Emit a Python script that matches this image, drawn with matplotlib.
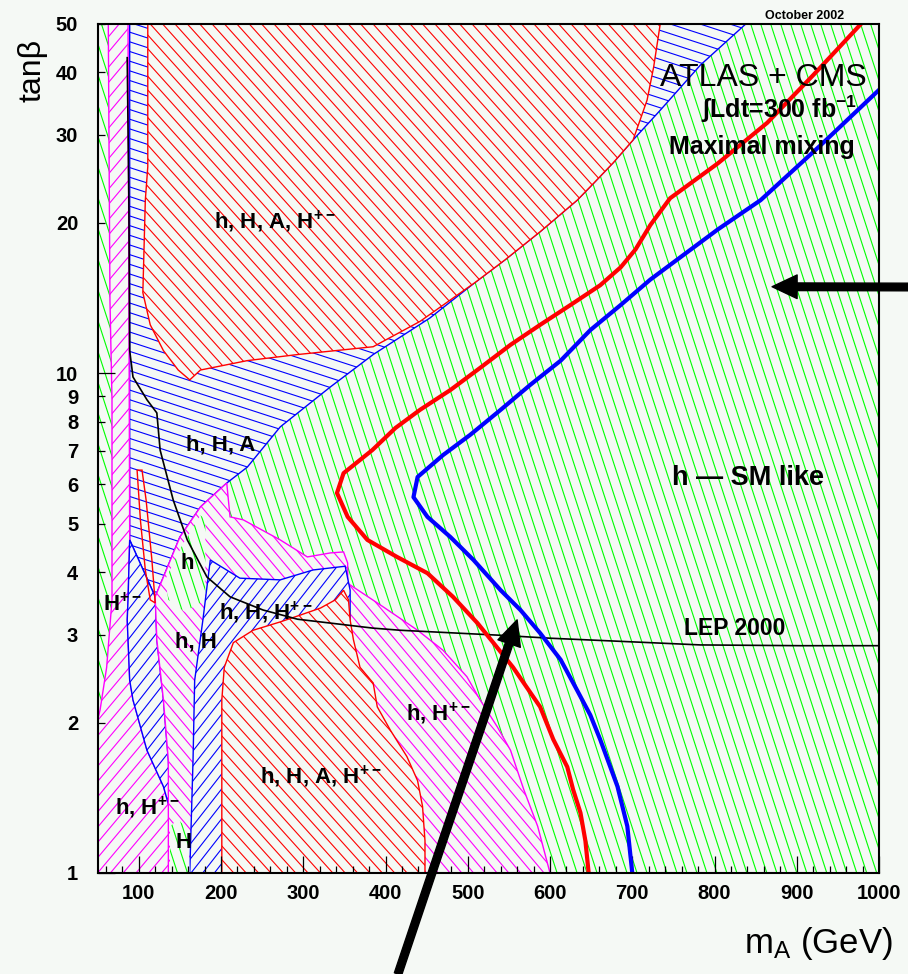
import matplotlib
matplotlib.use('Agg')
import matplotlib.pyplot as plt
import numpy as np
from matplotlib.patches import Polygon
from matplotlib.collections import LineCollection

plt.rcParams['font.family'] = ['Liberation Sans', 'DejaVu Sans']
plt.rcParams['font.weight'] = 'bold'
plt.rcParams['mathtext.default'] = 'regular'

BG = '#f5f9f5'
GREEN, RED, BLUE, MAGENTA = '#00ff00', '#ff0000', '#0000ff', '#ff00ff'

# 5 sigma contours (mA in GeV, tan beta)
red_ma = [978, 920, 864, 804, 746, 722, 704, 686, 661, 625, 588, 552, 515, 479, 442, 412, 384,
          349, 341, 354, 378, 414, 451, 482, 512, 531, 555, 588, 604, 621, 628, 637, 643, 647]
red_tb = [50.0, 39.5, 31.7, 26.3, 22.4, 19.8, 17.7, 16.3, 15.0, 13.7, 12.5, 11.4, 10.25, 9.26, 8.45,
          7.77, 7.02, 6.31, 5.76, 5.16, 4.64, 4.29, 3.98, 3.57, 3.16, 2.89, 2.58, 2.15, 1.85, 1.63,
          1.47, 1.32, 1.16, 1.0]
blue_ma = [1000, 929, 856, 804, 722, 686, 649, 613, 576, 540, 503, 470, 439, 434, 451, 479, 507,
           540, 564, 588, 613, 633, 649, 661, 682, 694, 700]
blue_tb = [36.9, 28.6, 22.2, 19.4, 15.4, 13.7, 12.2, 10.6, 9.48, 8.45, 7.53, 6.86, 6.20, 5.65, 5.16,
           4.70, 4.23, 3.68, 3.36, 3.02, 2.67, 2.32, 2.07, 1.85, 1.49, 1.24, 1.0]

# LEP 2000 exclusion line
lep_ma = [86, 88, 89, 93, 110, 122, 126, 142, 159, 183, 211, 251, 293, 385, 418, 540, 600, 722,
          783, 905, 1000]
lep_tb = [42.8, 22.2, 11.1, 9.83, 8.85, 8.33, 7.02, 5.57, 4.64, 3.91, 3.57, 3.36, 3.22, 3.09, 3.06,
          2.99, 2.95, 2.89, 2.86, 2.85, 2.85]

# observable-Higgs regions, outlines in (mA, tan beta)
hha_ma = [89, 838, 783, 734, 701, 677, 653, 633, 588, 546, 509, 454, 385, 333, 272, 232, 207, 175,
          150, 130, 120, 89]
hha_tb = [50, 50, 41.4, 33.6, 29.3, 26.4, 24.0, 22.2, 19.2, 16.9, 15.2, 12.9, 10.9, 9.39, 7.81, 6.49,
          6.03, 5.40, 4.70, 3.91, 3.57, 4.64]

all4_top_ma = [111, 734, 726, 718, 701, 677, 653, 633, 588, 546, 509, 442, 385, 293, 232, 175, 162,
               148, 130, 114, 105, 108, 111]
all4_top_tb = [50, 50, 41.0, 35.2, 29.3, 26.4, 24.0, 22.2, 19.2, 16.9, 15.2, 12.7, 11.3, 10.9, 10.6,
               10.15, 9.70, 10.15, 11.1, 12.5, 14.5, 22.2, 25.9]

hhpm_left_ma = [63, 87, 89, 87, 86, 89, 93, 110, 130, 138, 138, 50, 50, 53, 61, 67.5, 67.5, 65, 63]
hhpm_left_tb = [50, 50, 4.64, 3.52, 3.21, 2.43, 2.22, 1.76, 1.49, 1.34, 1.0, 1.0, 2.02, 2.12, 2.58,
                3.52, 8.85, 14.0, 50]

wedge_ma = [89, 120, 122, 130, 136, 138, 130, 110, 93, 89, 86, 87]
wedge_tb = [4.64, 3.57, 2.93, 2.22, 1.68, 1.34, 1.49, 1.76, 2.22, 2.43, 3.21, 3.52]

hh_mid_ma = [120, 130, 150, 175, 207, 211, 227, 272, 305, 333, 349, 354, 354, 397, 439, 470, 499,
             515, 536, 552, 568, 585, 600, 136, 136, 130, 122]
hh_mid_tb = [3.57, 3.91, 4.70, 5.40, 6.03, 5.16, 5.09, 4.64, 4.29, 4.37, 4.39, 4.17, 3.80, 3.41,
             3.06, 2.79, 2.47, 2.22, 1.96, 1.76, 1.47, 1.24, 1.0, 1.0, 1.68, 2.22, 2.93]

h_pocket_ma = [132, 153, 175, 181, 181, 156, 136]
h_pocket_tb = [3.86, 4.53, 5.20, 5.09, 3.52, 3.33, 3.52]

hhhpm_ma = [162, 166, 168, 178, 181, 187, 223, 272, 312, 351, 357, 357, 201]
hhhpm_tb = [1.0, 1.68, 2.43, 3.21, 3.52, 4.23, 3.89, 3.86, 4.04, 4.11, 3.68, 2.93, 1.0]

all4_low_ma = [201, 201, 204, 215, 239, 272, 296, 321, 339, 349, 355, 357, 361, 369, 385, 390, 406,
               426, 439, 445, 448, 448]
all4_low_tb = [1.0, 2.22, 2.58, 2.89, 3.06, 3.18, 3.28, 3.39, 3.52, 3.68, 3.52, 3.21, 2.93, 2.58,
               2.40, 2.15, 1.93, 1.71, 1.53, 1.36, 1.16, 1.0]

H_pocket_ma = [138, 148, 160, 162, 138]
H_pocket_tb = [1.24, 1.28, 1.22, 1.0, 1.0]

sliver_ma = [98, 102, 108, 114, 120, 116, 109, 104]
sliver_tb = [6.40, 5.09, 4.04, 3.52, 3.47, 4.23, 5.57, 6.40]

y_major = [1, 10]
y_minor = [2, 3, 4, 5, 6, 7, 8, 9, 20, 30, 40, 50]

fig = plt.figure(figsize=(9.08, 9.74), dpi=100, facecolor=BG)
ax = fig.add_axes([0.1075, 0.1037, 0.8606, 0.8717], facecolor=BG)
ax.set_xlim(50, 1000)
ax.set_yscale('log')
ax.set_ylim(1, 50)
ax.set_autoscale_on(False)

W = 0.8606 * 908
H = 0.8717 * 974
zlevel = [1.0]


def hatch(xs, ys, color, angle, step, edge=True):
    """Fill a region with background and draw ROOT-like hatching clipped to it."""
    z = zlevel[0]
    zlevel[0] += 0.05
    pts = np.column_stack([xs, ys])
    poly = Polygon(pts, closed=True, facecolor=BG, edgecolor='none', zorder=z)
    ax.add_patch(poly)
    th = np.radians(angle)
    d = np.array([np.cos(th), np.sin(th)])
    n = np.array([-np.sin(th), np.cos(th)])
    corners = np.array([[0, 0], [W, 0], [0, H], [W, H]])
    c = corners @ n
    L = W + H
    segs = []
    for ci in np.arange(np.floor(c.min() / step) * step, c.max() + step, step):
        p0 = ci * n - L * d
        p1 = ci * n + L * d
        segs.append([(p0[0] / W, p0[1] / H), (p1[0] / W, p1[1] / H)])
    lc = LineCollection(segs, colors=color, lw=0.8, transform=ax.transAxes, zorder=z + 0.01)
    lc.set_clip_path(poly)
    ax.add_collection(lc, autolim=False)
    if edge:
        ax.add_patch(Polygon(pts, closed=True, fill=False, edgecolor=color, lw=1.0,
                             zorder=z + 0.02))


# h SM-like everywhere underneath
hatch([50, 1000, 1000, 50], [1, 1, 50, 50], GREEN, -72, 9.5, edge=False)
hatch(hha_ma, hha_tb, BLUE, -18, 9.2)
hatch(all4_top_ma, all4_top_tb, RED, -48, 9.2)
hatch(hhpm_left_ma, hhpm_left_tb, MAGENTA, 50, 9.8)
hatch(wedge_ma, wedge_tb, BLUE, 52, 9.2)
hatch(hh_mid_ma, hh_mid_tb, MAGENTA, -50, 9.0)
hatch(h_pocket_ma, h_pocket_tb, GREEN, -72, 9.5, edge=False)
hatch(hhhpm_ma, hhhpm_tb, BLUE, 52, 9.2)
hatch(all4_low_ma, all4_low_tb, RED, -48, 9.2)
hatch(H_pocket_ma, H_pocket_tb, GREEN, -72, 9.5, edge=False)
ax.add_patch(Polygon(np.column_stack([sliver_ma, sliver_tb]), closed=True, fill=False,
                     edgecolor=RED, lw=1.0, zorder=2.2))

ax.plot(lep_ma, lep_tb, color='k', lw=1.2, zorder=3)
ax.plot(red_ma, red_tb, color=RED, lw=3.0, zorder=3.2)
ax.plot(blue_ma, blue_tb, color=BLUE, lw=3.0, zorder=3.2)

labels = [
    ('h, H, A, H$^{+-}$', 266, 20.1, 'center'),
    ('h, H, A', 200, 7.18, 'center'),
    ('h', 159, 4.17, 'center'),
    ('H$^{+-}$', 56, 3.45, 'left'),
    ('h, H, H$^{+-}$', 254, 3.31, 'center'),
    ('h, H', 170, 2.90, 'center'),
    ('h, H$^{+-}$', 465, 2.08, 'center'),
    ('h, H, A, H$^{+-}$', 322, 1.56, 'center'),
    ('h, H$^{+-}$', 111, 1.35, 'center'),
    ('H', 154.5, 1.15, 'center'),
]
for txt, x, y, ha in labels:
    ax.text(x, y, txt, ha=ha, va='center', fontsize=16, zorder=4)

ax.text(841, 6.17, 'h \u2014 SM like', ha='center', va='center', fontsize=19.5, zorder=4)
ax.text(824, 3.08, 'LEP 2000', ha='center', va='center', fontsize=16.5, zorder=4)
ax.text(859, 38.9, 'ATLAS + CMS', ha='center', va='center', fontsize=23, fontweight='normal',
        zorder=4)
ax.text(879, 33.8, '\u0283Ldt=300 fb$^{-1}$', ha='center', va='center', fontsize=18, zorder=4)
ax.text(858, 28.3, 'Maximal mixing', ha='center', va='center', fontsize=18, zorder=4)

fig.text(805 / 908, 1 - 16 / 974, 'October 2002', ha='center', va='center', fontsize=9)
fig.text(32 / 908, 1 - 70 / 974, 'tan\u03b2', rotation=90, ha='center', va='center',
         fontsize=23, fontweight='normal')
fig.text(818 / 908, 1 - 943 / 974, 'm$_A$ (GeV)', ha='center', va='center',
         fontsize=25, fontweight='normal')

# arrows pointing into the plot from outside the frame
arrow = dict(width=5.5, headwidth=17, headlength=18, facecolor='k', edgecolor='k', shrink=0)
ax.annotate('', xy=(870, 14.9), xycoords='data', xytext=(908, 974 - 287),
            textcoords='figure pixels', arrowprops=arrow, annotation_clip=False, zorder=10)
ax.annotate('', xy=(560, 3.21), xycoords='data', xytext=(398, 0),
            textcoords='figure pixels', arrowprops=arrow, annotation_clip=False, zorder=10)

ax.set_xticks(np.arange(100, 1001, 100))
ax.xaxis.set_minor_locator(plt.MultipleLocator(20))
ax.set_yticks(y_major, labels=[str(v) for v in y_major])
ax.set_yticks(y_minor, labels=[str(v) for v in y_minor], minor=True)
ax.tick_params(axis='both', which='both', direction='in', width=0.9, labelsize=14.5,
               top=False, right=False)
ax.tick_params(axis='x', which='major', length=12, pad=8)
ax.tick_params(axis='x', which='minor', length=5)
ax.tick_params(axis='y', which='major', length=12, pad=14)
ax.tick_params(axis='y', which='minor', length=5, pad=14)
for s in ax.spines.values():
    s.set_linewidth(1.5)
    s.set_zorder(5)

fig.savefig('out.png', dpi=100, facecolor=BG)
